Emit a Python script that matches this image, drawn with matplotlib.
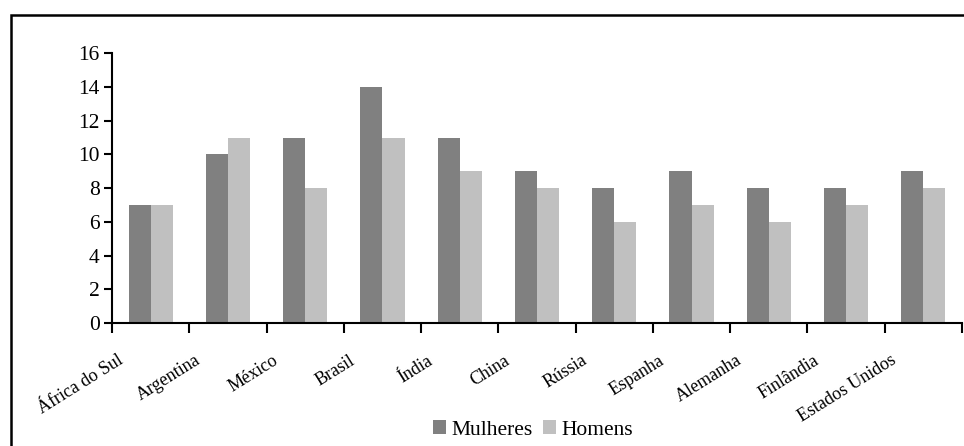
import matplotlib
matplotlib.use("Agg")
import matplotlib.pyplot as plt
import matplotlib.transforms as mtransforms
from matplotlib.patches import Rectangle
import numpy as np

paises = ['África do Sul', 'Argentina', 'México', 'Brasil', 'Índia', 'China',
          'Rússia', 'Espanha', 'Alemanha', 'Finlândia', 'Estados Unidos']
mulheres = [7, 10, 11, 14, 11, 9, 8, 9, 8, 8, 9]
homens = [7, 11, 8, 11, 9, 8, 6, 7, 6, 7, 8]
yticks = [0, 2, 4, 6, 8, 10, 12, 14, 16]

plt.rcParams['font.family'] = ['Liberation Serif', 'DejaVu Serif']

fig = plt.figure(figsize=(9.64, 4.46), dpi=100)
ax = fig.add_axes([112/964, 123/446, 850/964, (392.7-123)/446])

x = np.arange(len(paises))
w = 0.2857
ax.bar(x - w/2, mulheres, w, color='#808080', label='Mulheres')
ax.bar(x + w/2, homens, w, color='#c0c0c0', label='Homens')

ax.set_xlim(-0.5, len(paises) - 0.5)
ax.set_ylim(0, 16)
ax.set_yticks(yticks)
ax.tick_params(axis='y', labelsize=15.5, length=6, width=1.5, direction='out', pad=3)

# ticks between categories, labels placed by hand
ax.set_xticks(np.arange(len(paises) + 1) - 0.5)
ax.set_xticklabels([])
ax.tick_params(axis='x', length=7, width=1.5, direction='out')

off = mtransforms.ScaledTranslation(-0.33, -0.29, fig.dpi_scale_trans)
for i, p in enumerate(paises):
    ax.text(i, 0, p, transform=ax.get_xaxis_transform() + off, rotation=32,
            ha='right', va='top', rotation_mode='anchor', fontsize=13)

for s in ['top', 'right']:
    ax.spines[s].set_visible(False)
for s in ['left', 'bottom']:
    ax.spines[s].set_linewidth(1.5)

fig.legend(loc='center', bbox_to_anchor=(533/964, 16/446), ncol=2, frameon=False,
           fontsize=15.5, handlelength=0.6, handleheight=0.6, handletextpad=0.25,
           columnspacing=0.5)

# outer frame
fig.patches.append(Rectangle((10.5/964, -0.1), 1.2, (446-14.5)/446 + 0.1,
                             transform=fig.transFigure, fill=False,
                             edgecolor='black', linewidth=1.8))

fig.savefig('out.png', dpi=100)
